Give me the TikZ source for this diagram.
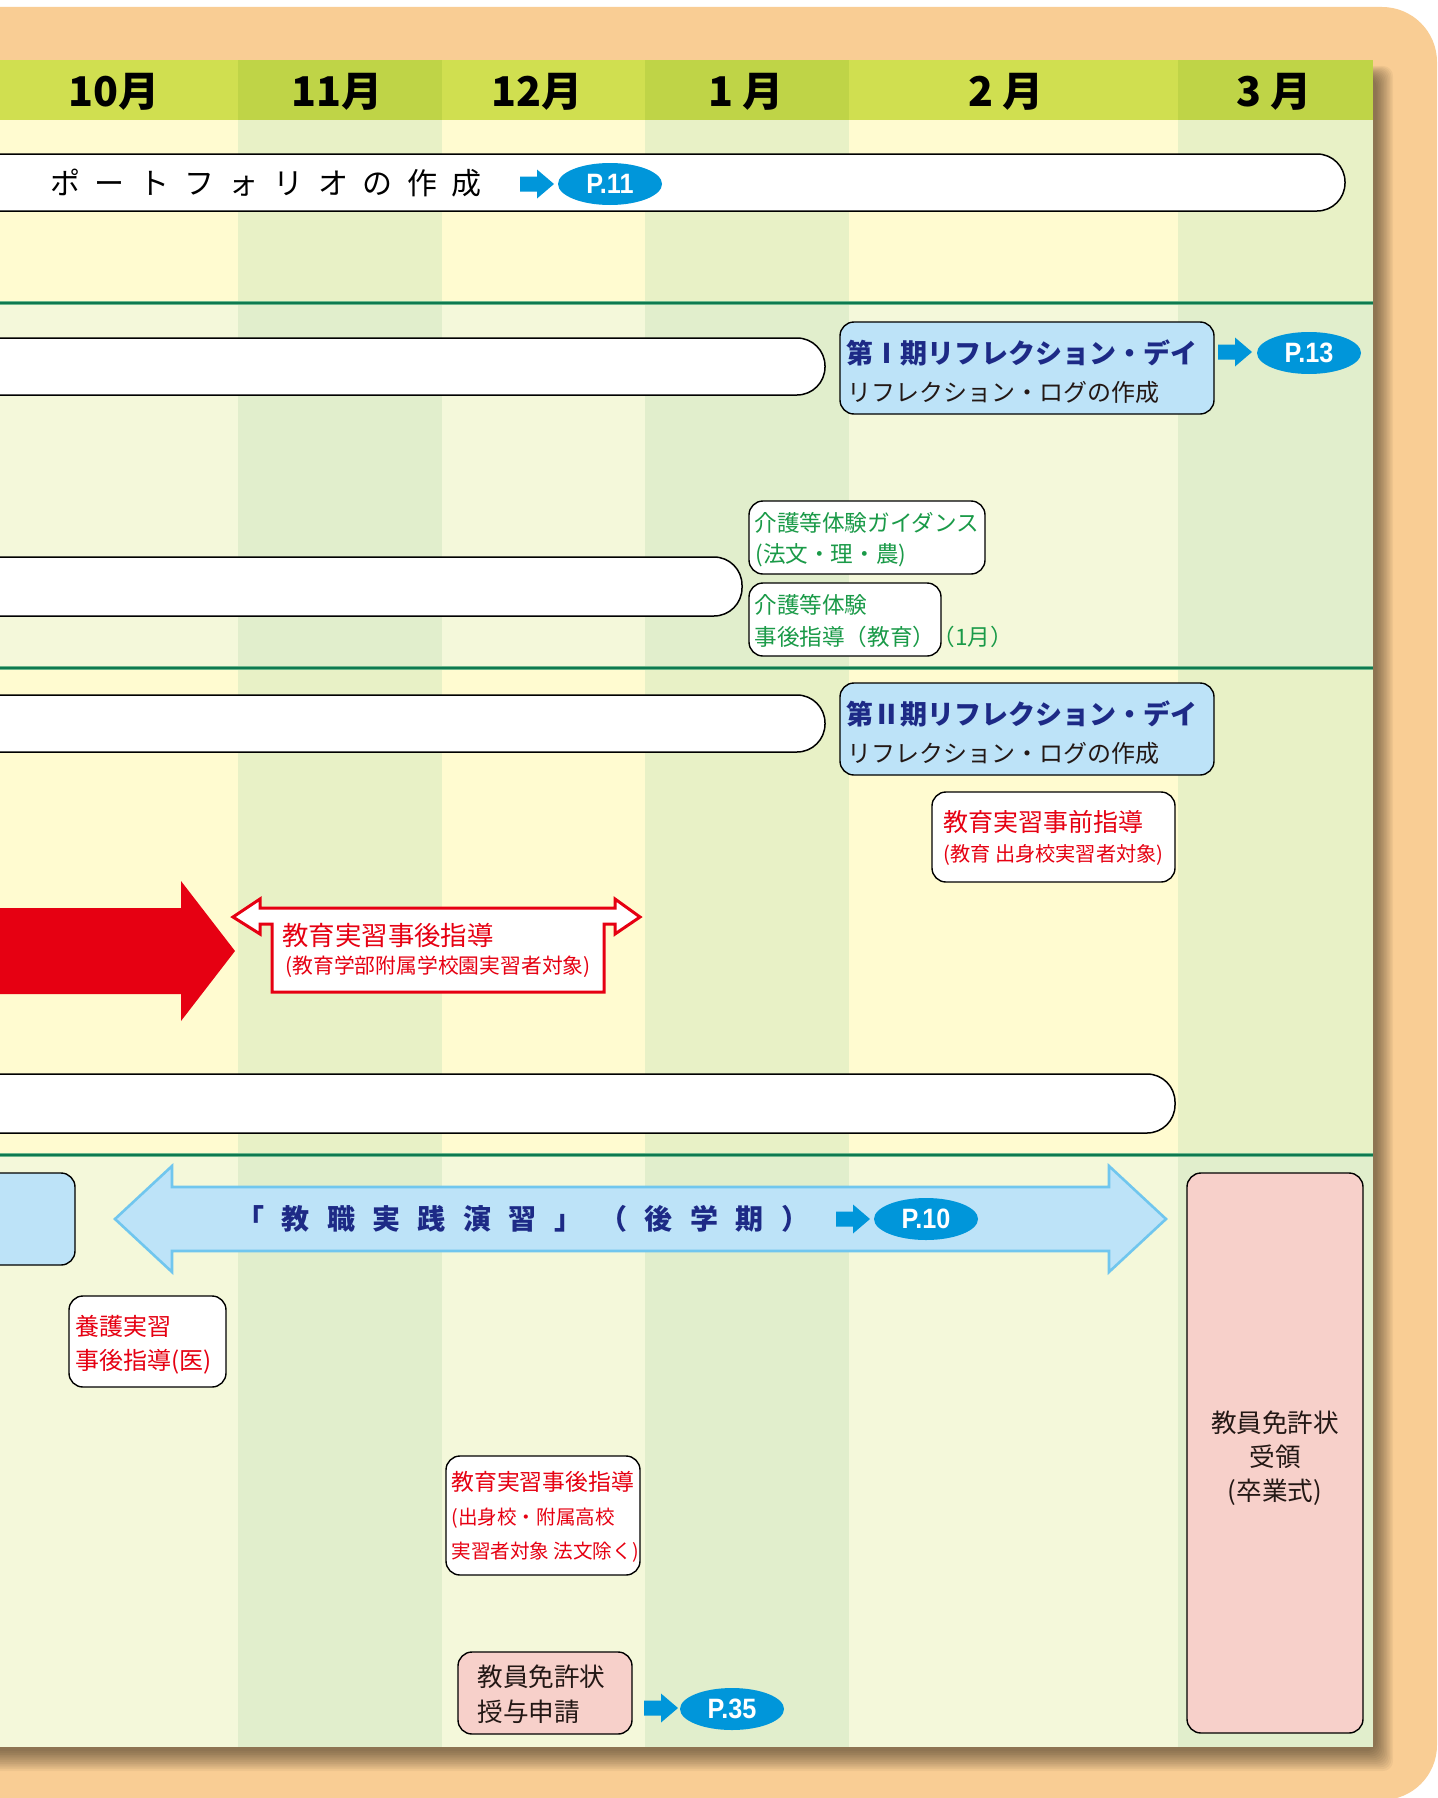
\documentclass[tikz,border=0pt]{standalone}
\usepackage{graphicx}
\usepackage{fontspec}
\setmainfont{Noto Sans CJK JP}
\newfontfamily\badgefont{Liberation Sans}
\usetikzlibrary{shapes.geometric}
\definecolor{orangebg}{HTML}{F9CD94}
\definecolor{hdrA}{HTML}{D0DF50}
\definecolor{hdrB}{HTML}{BFD447}
\definecolor{yA}{HTML}{FFFBD0}
\definecolor{yB}{HTML}{E8F1C6}
\definecolor{gA}{HTML}{F4F8DA}
\definecolor{gB}{HTML}{E1EECC}
\definecolor{secdark}{HTML}{0E7A50}
\definecolor{seclight}{HTML}{6DB68C}
\definecolor{pblue}{HTML}{0096DA}
\definecolor{lblue}{HTML}{BDE3F8}
\definecolor{lblueline}{HTML}{70C6EE}
\definecolor{navy}{HTML}{1D2A86}
\definecolor{ink}{HTML}{231815}
\definecolor{jred}{HTML}{E60012}
\definecolor{jgreen}{HTML}{1A9A48}
\definecolor{pinkbox}{HTML}{F7D0CA}
\newcommand\gpa{\hspace{7.3pt}}
\newcommand\gpb{\hspace{8.7pt}}
\tikzset{
  bar/.style={draw=black, fill=white, line width=0.75pt, rounded corners=14pt},
  box/.style={draw=black, line width=0.7pt, rounded corners=7pt},
  txt/.style={inner sep=0pt, anchor=west},
  badge/.style={ellipse, fill=pblue, minimum width=52pt, minimum height=21pt, inner sep=0pt, text=white, font=\badgefont\bfseries\fontsize{14}{14}\selectfont},
  month/.style={inner sep=0pt, font=\bfseries\fontsize{20.5}{20.5}\selectfont},
  bluearrow/.pic={\fill[pblue] (-34,-7.5) -- (-17,-7.5) -- (-17,-14.5) -- (0,0) -- (-17,14.5) -- (-17,7.5) -- (-34,7.5) -- cycle;},
}
\begin{document}
\begin{tikzpicture}[x=0.5pt,y=-0.5pt]
\useasboundingbox (0,0) rectangle (1437,1798);
\clip (0,0) rectangle (1437,1798);
\fill[white] (0,0) rectangle (1437,1798);
\fill[orangebg, rounded corners=27.5pt] (-100,7) rectangle (1437,1800);
% shadow of the table
\foreach \i in {0,...,11} {\fill[black, opacity=0.045, rounded corners=5pt] (-50,{66+\i}) rectangle ({1393-1.5*\i},{1771-1.8*\i});}
% columns
\foreach \xa/\xb/\ch/\cy/\cg in {-10/238/hdrA/yA/gA, 238/442/hdrB/yB/gB, 442/645/hdrA/yA/gA, 645/849/hdrB/yB/gB, 849/1178/hdrA/yA/gA, 1178/1373/hdrB/yB/gB} {
  \fill[\ch] (\xa,60) rectangle (\xb,120);
  \fill[\cy] (\xa,120) rectangle (\xb,303);
  \fill[\cg] (\xa,303) rectangle (\xb,668);
  \fill[\cy] (\xa,668) rectangle (\xb,1155);
  \fill[\cg] (\xa,1155) rectangle (\xb,1747);
}
\foreach \yy in {303,668,1155} {
  \draw[seclight, line width=1.7pt] (-10,\yy) -- (1373,\yy);
  \draw[secdark, line width=1.1pt] (-10,\yy) -- (1373,\yy);
}
% month labels
\node[month] (m10) at (114,92) {10月};
\node[month] (m11) at (337,92) {11月};
\node[month] (m12) at (537,92) {12月};
\node[month] (m01) at (746,92) {1 月};
\node[month] (m02) at (1006,92) {2 月};
\node[month] (m03) at (1274,92) {3 月};

% ---------- section 1
\draw[bar] (-30,154) rectangle (1345,211);
\node[txt, font=\fontsize{15}{15}\selectfont, text=black] (pf) at (50,183) {ポ\gpa ー\gpa ト\gpa フ\gpa ォ\gpa リ\gpa オ\gpa の\gpa 作\gpa 成};
\pic at (554,184) {bluearrow};
\node[badge] (p11) at (610,184) {\scalebox{0.9}[1]{P.11}};

% ---------- section 2
\draw[bar] (-30,338) rectangle (825,395);
\draw[box, fill=lblue] (840,322) rectangle (1214,414);
\node[txt, font=\bfseries\fontsize{13.5}{13.5}\selectfont, text=navy] (r1a) at (846,353) {第Ⅰ期リフレクション・デイ};
\node[txt, font=\fontsize{12}{12}\selectfont, text=ink] (r1b) at (847,392) {リフレクション・ログの作成};
\pic at (1252,352) {bluearrow};
\node[badge] (p13) at (1309,353) {\scalebox{0.9}[1]{P.13}};

\draw[bar] (-30,557) rectangle (742,616);
\draw[box, fill=white] (749,501) rectangle (985,574);
\node[txt, font=\fontsize{11.3}{11.3}\selectfont, text=jgreen] (kg1) at (754,523) {介護等体験ガイダンス};
\node[txt, font=\fontsize{11.3}{11.3}\selectfont, text=jgreen] (kg2) at (755,555) {(法文・理・農)};
\draw[box, fill=white] (749,583) rectangle (941,656);
\node[txt, font=\fontsize{11.3}{11.3}\selectfont, text=jgreen] (kj1) at (754,605) {介護等体験};
\node[txt, font=\fontsize{11.3}{11.3}\selectfont, text=jgreen] (kj2) at (754,637) {事後指導（教育）};
\node[txt, font=\fontsize{11.3}{11.3}\selectfont, text=jgreen] (kj3) at (932,637) {（1月）};

% ---------- section 3
\draw[bar] (-30,695) rectangle (825,752);
\draw[box, fill=lblue] (840,683) rectangle (1214,775);
\node[txt, font=\bfseries\fontsize{13.5}{13.5}\selectfont, text=navy] (r2a) at (846,714) {第Ⅱ期リフレクション・デイ};
\node[txt, font=\fontsize{12}{12}\selectfont, text=ink] (r2b) at (847,753) {リフレクション・ログの作成};

\draw[box, fill=white] (932,792) rectangle (1175,882);
\node[txt, font=\fontsize{12.5}{12.5}\selectfont, text=jred] (zj1) at (943,822) {教育実習事前指導};
\node[txt, font=\fontsize{10.1}{10.1}\selectfont, text=jred] (zj2) at (943,855) {(教育 出身校実習者対象)};

\fill[jred] (-20,908) -- (181,908) -- (181,881) -- (235,951) -- (181,1021) -- (181,994) -- (-20,994) -- cycle;
\draw[jred, fill=white, line width=1.5pt, line join=miter] (233,917) -- (260,899) -- (260,908) -- (615,908) -- (615,899) -- (640,917) -- (615,934) -- (615,924) -- (604,924) -- (604,992) -- (272,992) -- (272,924) -- (260,924) -- (260,934) -- cycle;
\node[txt, font=\fontsize{13.2}{13.2}\selectfont, text=jred] (jg1) at (282,935) {教育実習事後指導};
\node[txt, font=\fontsize{10.4}{10.4}\selectfont, text=jred] (jg2) at (285,967) {(教育学部附属学校園実習者対象)};

\draw[bar] (-30,1074) rectangle (1175,1133);

% ---------- section 4
\draw[box, fill=lblue] (-30,1173) rectangle (75,1265);
\draw[lblueline, fill=lblue, line width=1.3pt, line join=miter] (115,1219) -- (172,1166) -- (172,1187) -- (1109,1187) -- (1109,1166) -- (1166,1219) -- (1109,1272) -- (1109,1251) -- (172,1251) -- (172,1272) -- cycle;
\node[txt, font=\bfseries\fontsize{14}{14}\selectfont, text=navy] (ks) at (236,1219) {「\gpb 教\gpb 職\gpb 実\gpb 践\gpb 演\gpb 習\gpb 」\gpb （\gpb 後\gpb 学\gpb 期\gpb ）};
\pic at (870,1219) {bluearrow};
\node[badge] (p10) at (926,1219) {\scalebox{0.9}[1]{P.10}};

\draw[box, fill=white] (69,1296) rectangle (226,1387);
\node[txt, font=\fontsize{12}{12}\selectfont, text=jred] (yg1) at (75,1326) {養護実習};
\node[txt, font=\fontsize{12}{12}\selectfont, text=jred] (yg2) at (75,1362) {事後指導(医)};

\draw[box, fill=pinkbox] (1187,1173) rectangle (1363,1733);
\node[inner sep=0pt, font=\fontsize{12.8}{12.8}\selectfont, text=ink] (ju1) at (1275,1423) {教員免許状};
\node[inner sep=0pt, font=\fontsize{12.8}{12.8}\selectfont, text=ink] (ju2) at (1275,1457) {受領};
\node[inner sep=0pt, font=\fontsize{12.8}{12.8}\selectfont, text=ink] (ju3) at (1275,1492) {(卒業式)};

\draw[box, fill=white] (446,1456) rectangle (640,1575);
\node[txt, font=\fontsize{11.4}{11.4}\selectfont, text=jred] (js1) at (451,1482) {教育実習事後指導};
\node[txt, font=\fontsize{9.8}{9.8}\selectfont, text=jred] (js2) at (451,1518) {(出身校・附属高校};
\node[txt, font=\fontsize{9.8}{9.8}\selectfont, text=jred] (js3) at (451,1552) {実習者対象 法文除く)};

\draw[box, fill=pinkbox] (458,1652) rectangle (632,1734);
\node[txt, font=\fontsize{12.8}{12.8}\selectfont, text=ink] (jy1) at (477,1677) {教員免許状};
\node[txt, font=\fontsize{12.8}{12.8}\selectfont, text=ink] (jy2) at (477,1712) {授与申請};
\pic at (678,1708) {bluearrow};
\node[badge] (p35) at (732,1709) {\scalebox{0.9}[1]{P.35}};
\end{tikzpicture}
\end{document}
